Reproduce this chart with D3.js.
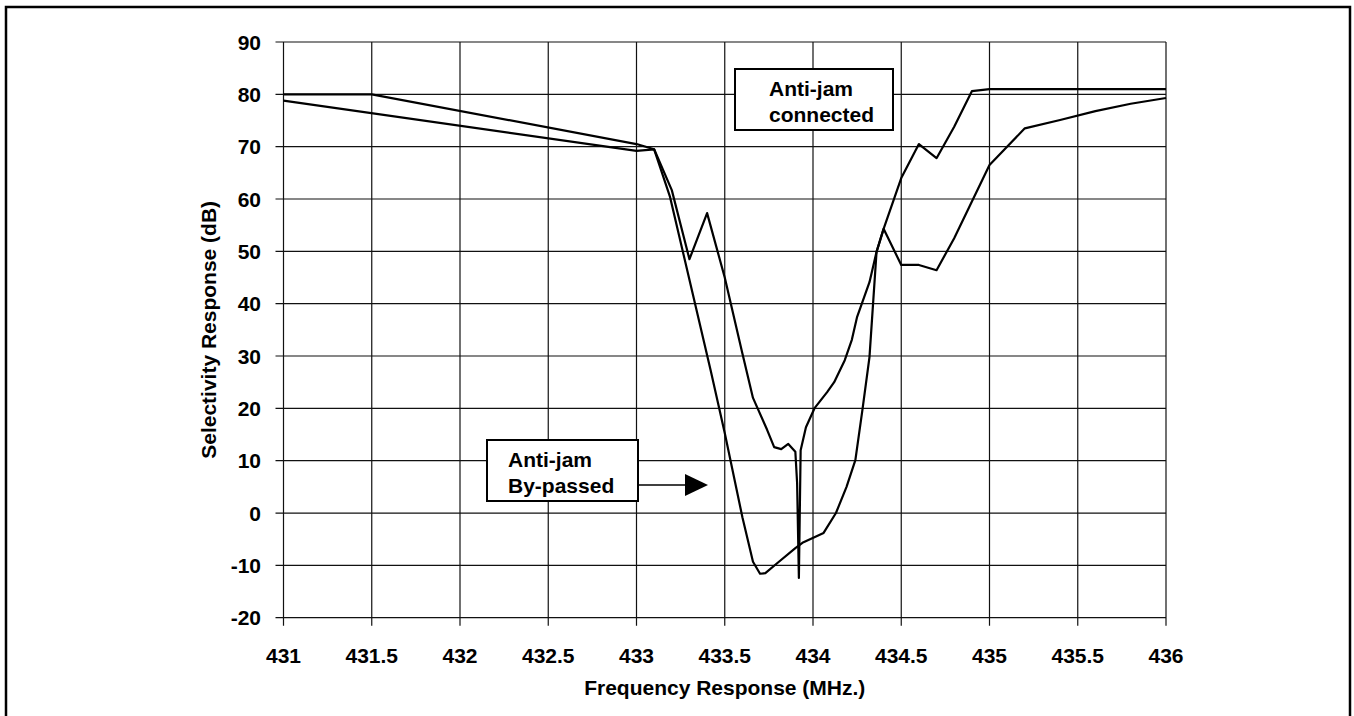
<!DOCTYPE html>
<html>
<head>
<meta charset="utf-8">
<script src="https://cdn.jsdelivr.net/npm/d3@7"></script>
<style>
  body { margin: 0; background: #fff; }
  text { font-family: Arial, "Liberation Sans", sans-serif; font-weight: bold; fill: #000; }
</style>
</head>
<body>
<div class="chart"></div>
<script>
// selectivity response, two measured curves

var xTicks = [431, 431.5, 432, 432.5, 433, 433.5, 434, 434.5, 435, 435.5, 436];
var yTicks = [-20, -10, 0, 10, 20, 30, 40, 50, 60, 70, 80, 90];

// anti-jam connected (the one with the sharp notch)
var connectedFreq = [431, 431.5, 433.0, 433.1, 433.2, 433.3, 433.4, 433.5, 433.6, 433.66, 433.74, 433.78,
  433.82, 433.86, 433.9, 433.91, 433.92, 433.93, 433.96, 434.01, 434.08, 434.12, 434.18, 434.22,
  434.25, 434.32, 434.36, 434.4, 434.5, 434.6, 434.7, 434.8, 434.9, 435.0, 436];
var connectedDb = [80, 80, 70.5, 69.5, 61.7, 48.5, 57.3, 45, 30.5, 22, 15.9, 12.6,
  12.2, 13.2, 11.7, 5.7, -12.4, 12, 16.4, 20.1, 23.1, 25, 29.2, 33.1,
  37.5, 44.1, 49.9, 54.3, 64, 70.5, 67.8, 73.8, 80.6, 81, 81];

// anti-jam by-passed
var bypassFreq = [431, 433.0, 433.1, 433.19, 433.42, 433.5, 433.6, 433.66, 433.7, 433.73, 433.8,
  433.9, 433.94, 434.06, 434.13, 434.19, 434.24, 434.28, 434.32, 434.36, 434.4, 434.5, 434.6,
  434.7, 434.8, 435.0, 435.2, 435.4, 435.6, 435.8, 436];
var bypassDb = [78.8, 69.2, 69.5, 60.4, 27.3, 15.3, -0.8, -9.3, -11.6, -11.5, -9.5,
  -6.7, -5.7, -3.8, 0.0, 5.0, 10.1, 19.7, 29.8, 49.9, 54.3, 47.4, 47.4,
  46.4, 52.5, 66.5, 73.5, 75.1, 76.8, 78.2, 79.3];

var W = 1354, H = 716;
var plotLeft = 283.5, plotRight = 1166, plotTop = 42, plotBottom = 617.7;

var canvas = d3.select(".chart").append("svg")
  .attr("width", W)
  .attr("height", H);

// outer frame
canvas.append("rect")
  .attr("x", 6).attr("y", 7)
  .attr("width", 1344).attr("height", 740)
  .attr("fill", "none")
  .attr("stroke", "#000")
  .attr("stroke-width", 2.5);

var x = d3.scaleLinear().domain([431, 436]).range([plotLeft, plotRight]);
var y = d3.scaleLinear().domain([-20, 90]).range([plotBottom, plotTop]);

// grid
var grid = canvas.append("g");
grid.selectAll(".vg").data(xTicks).enter().append("line")
  .attr("x1", function(d) {return x(d)})
  .attr("x2", function(d) {return x(d)})
  .attr("y1", plotTop)
  .attr("y2", plotBottom + 8)
  .attr("stroke", "#111")
  .attr("stroke-width", 1.2);
grid.selectAll(".hg").data(yTicks).enter().append("line")
  .attr("y1", function(d) {return y(d)})
  .attr("y2", function(d) {return y(d)})
  .attr("x1", plotLeft - 8)
  .attr("x2", plotRight)
  .attr("stroke", "#111")
  .attr("stroke-width", 1.2);

// tick labels
canvas.append("g").selectAll("text").data(xTicks).enter().append("text")
  .attr("x", function(d) {return x(d)})
  .attr("y", 663)
  .attr("text-anchor", "middle")
  .attr("font-size", 21)
  .text(function(d) {return d});
canvas.append("g").selectAll("text").data(yTicks).enter().append("text")
  .attr("x", 261)
  .attr("y", function(d) {return y(d)})
  .attr("dy", "0.36em")
  .attr("text-anchor", "end")
  .attr("font-size", 21)
  .text(function(d) {return d});

// axis titles
canvas.append("text")
  .attr("x", (plotLeft + plotRight) / 2)
  .attr("y", 695)
  .attr("text-anchor", "middle")
  .attr("font-size", 21)
  .text("Frequency Response (MHz.)");
canvas.append("text")
  .attr("transform", "translate(216," + ((plotTop + plotBottom) / 2) + ") rotate(-90)")
  .attr("text-anchor", "middle")
  .attr("font-size", 21)
  .text("Selectivity Response (dB)");

// curves
var line = d3.line()
  .x(function(d) {return x(d[0])})
  .y(function(d) {return y(d[1])});

var curves = [d3.zip(connectedFreq, connectedDb), d3.zip(bypassFreq, bypassDb)];
canvas.append("g").selectAll("path").data(curves).enter().append("path")
  .attr("d", line)
  .attr("fill", "none")
  .attr("stroke", "#000")
  .attr("stroke-width", 2.2)
  .attr("stroke-linejoin", "round");

// labels
function labelBox(bx, by, bw, bh, lines) {
  canvas.append("rect")
    .attr("x", bx).attr("y", by)
    .attr("width", bw).attr("height", bh)
    .attr("fill", "#fff")
    .attr("stroke", "#000")
    .attr("stroke-width", 2);
  lines.forEach(function(t) {
    canvas.append("text")
      .attr("x", t.x)
      .attr("y", t.y)
      .attr("font-size", 21)
      .text(t.s);
  });
}
labelBox(735, 69, 158, 61, [{x: 769, y: 96, s: "Anti-jam"}, {x: 769, y: 122, s: "connected"}]);
labelBox(487, 440, 151, 61, [{x: 508, y: 467, s: "Anti-jam"}, {x: 508, y: 493, s: "By-passed"}]);

// arrow
canvas.append("line")
  .attr("x1", 638).attr("x2", 688)
  .attr("y1", 485).attr("y2", 485)
  .attr("stroke", "#000")
  .attr("stroke-width", 1.5);
canvas.append("path")
  .attr("d", "M685,474 L708,485 L685,496 Z")
  .attr("fill", "#000");
</script>
</body>
</html>
